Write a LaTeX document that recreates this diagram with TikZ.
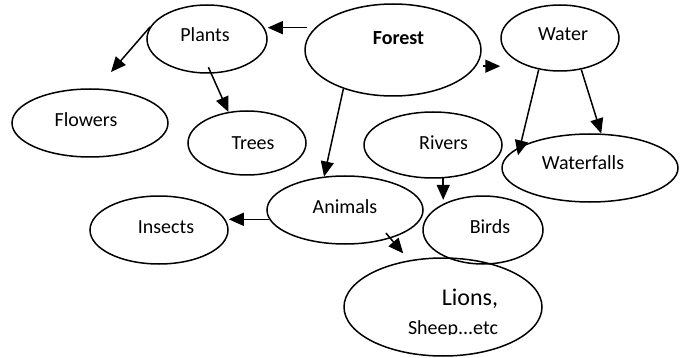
\documentclass[tikz,border=0pt]{standalone}
\usepackage{fontspec}
\setmainfont{Carlito}
\usetikzlibrary{shapes.geometric,arrows.meta}
\begin{document}
\begin{tikzpicture}[x=1pt,y=-1pt,
  oval/.style={ellipse,draw,line width=1.5pt,inner sep=0pt},
  lbl/.style={font=\fontsize{20}{24}\selectfont,anchor=base,inner sep=0pt},
  arr/.style={line width=1.5pt,-{Triangle[length=15pt,width=13pt]}}]
\useasboundingbox (0,0) rectangle (682,358);
% ellipses
\node[oval,minimum width=120pt,minimum height=68pt] (plants) at (207,39) {};
\node[oval,minimum width=176pt,minimum height=92pt] (forest) at (393,50) {};
\node[oval,minimum width=118pt,minimum height=66pt] (water) at (560,38) {};
\node[oval,minimum width=156pt,minimum height=68pt] (flowers) at (90,123) {};
\node[oval,minimum width=118pt,minimum height=64pt] (trees) at (247,143) {};
\node[oval,minimum width=138pt,minimum height=66pt] (rivers) at (433,145) {};
\node[oval,minimum width=176pt,minimum height=68pt] (waterfalls) at (590,168) {};
\node[oval,minimum width=156pt,minimum height=68pt] (animals) at (345,210) {};
\node[oval,minimum width=138pt,minimum height=68pt] (insects) at (159,230) {};
\node[oval,minimum width=120pt,minimum height=68pt] (birds) at (483,230) {};
\node[oval,minimum width=198pt,minimum height=98pt] (lions) at (443,307) {};
% texts
\node[lbl] (plantsT) at (205,41.5) {Plants};
\node[lbl,font=\fontsize{20}{24}\selectfont\bfseries] (forestT) at (398.5,44.5) {Forest};
\node[lbl] (waterT) at (563,40.5) {Water};
\node[lbl] (flowersT) at (86,126.5) {Flowers};
\node[lbl] (treesT) at (253,149.5) {Trees};
\node[lbl] (riversT) at (443.5,149.5) {Rivers};
\node[lbl] (waterfallsT) at (583,169.5) {Waterfalls};
\node[lbl] (animalsT) at (345,213.5) {Animals};
\node[lbl] (insectsT) at (166,233.5) {Insects};
\node[lbl] (birdsT) at (490,233.5) {Birds};
\node[lbl,font=\fontsize{24}{28}\selectfont] (lionsT) at (470,305) {Lions,};
\begin{scope}
\clip (340,310) rectangle (560,334.5);
\node[lbl] (sheepT) at (453,334) {Sheep...etc};
\end{scope}
% connectors
\coordinate (flowersTip) at (111,72);
\draw[arr,shorten <=8pt] (forest.164) -- (forest.164 -| plants.east);
\draw[arr] (plants.168) -- (flowersTip);
\draw[arr,shorten <=-7pt] (plants.-83) -- (trees.121.5);
\draw[arr,shorten <=7pt] (forest.-11) -- (forest.-11 -| water.west);
\draw[arr,shorten >=-9pt] (water.-124) -- (waterfalls.163);
\draw[arr] (water.-56) -- (waterfalls.72);
\draw[arr] (forest.-142) -- (animals.122);
\draw[arr] (rivers.-73) -- (rivers.-73 |- birds.135);
\draw[arr] (animals.-173) -- (animals.-173 -| insects.east);
\draw[arr,shorten <=-7pt,shorten >=9pt] (animals.-32) -- (lions.126);
\end{tikzpicture}
\end{document}
